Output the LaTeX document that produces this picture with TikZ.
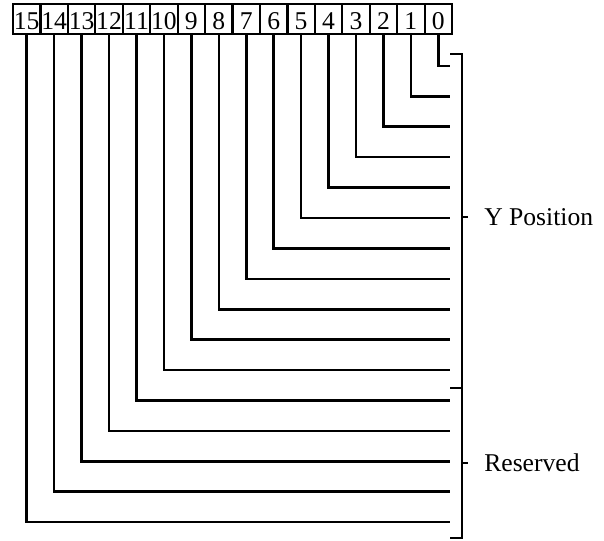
\documentclass[tikz,border=0pt]{standalone}
\usepackage{fontspec}
\setmainfont{Liberation Serif}
\usetikzlibrary{positioning}
\begin{document}
\begin{tikzpicture}[
      x=1pt, y=-1pt,
      line width=2.6pt,
      font=\fontsize{25.6}{30}\selectfont,
      bitbox/.style={draw, line width=2.2pt, minimum width=27.44pt, minimum height=30pt,
        inner sep=0pt, text height=22pt, text depth=0pt},
      marke/.style={inner sep=0pt}
    ]
      \useasboundingbox (0,0) rectangle (604,540);
      % Bitfelder
      \foreach \k in {0,...,15}
        \node[bitbox] (b\k) at ({13+27.44*(15.5-\k)},19) {\k};
      % Leitungen
      \foreach \k in {0,...,15} {
        \coordinate (e\k) at (450,{66+30.4*\k});
        \draw (b\k.south) |- (e\k);
      }
      % Klammer
      \coordinate (ytop) at (450,54);
      \coordinate (split) at (450,388);
      \coordinate (rbot) at (450,538);
      \coordinate (ytick) at (462,217);
      \coordinate (rtick) at (462,463);
      \draw (ytop) -- ++(12,0) |- (rbot);
      \draw (split) -- ++(12,0);
      \draw (ytick) -- ++(6,0);
      \draw (rtick) -- ++(6,0);
      \node[marke, right=21pt of ytick] (ypos) {Y Position};
      \node[marke, right=21pt of rtick] (resv) {Reserved};
    \end{tikzpicture}
\end{document}
